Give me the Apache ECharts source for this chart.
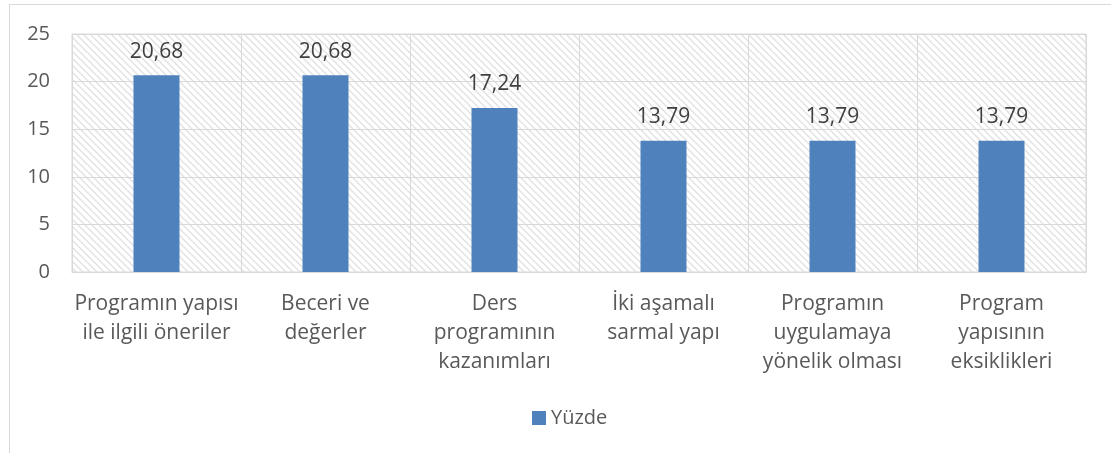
<!DOCTYPE html>
<html>
<head>
<meta charset="utf-8">
<script src="https://cdn.jsdelivr.net/npm/echarts@6/dist/echarts.min.js"></script>
<style>
  body{margin:0;background:#fff;overflow:hidden;}
  .frame{position:absolute;left:9px;top:4px;width:1300px;height:600px;border-left:1px solid #d9d9d9;border-top:1px solid #d9d9d9;}
  #chart{position:absolute;left:0;top:0;width:1111px;height:453px;}
</style>
</head>
<body>
<div class="frame"></div>
<div id="chart"></div>
<script>
var categories = [
  'Programın yapısı\nile ilgili öneriler',
  'Beceri ve\ndeğerler',
  'Ders\nprogramının\nkazanımları',
  'İki aşamalı\nsarmal yapı',
  'Programın\nuygulamaya\nyönelik olması',
  'Program\nyapısının\neksiklikleri'
];
var yuzde = [20.68, 20.68, 17.24, 13.79, 13.79, 13.79];
var seriesName = 'Yüzde';

// diagonal hatch for the plot background
function hatch() {
  var c = document.createElement('canvas');
  c.width = 7; c.height = 7;
  var g = c.getContext('2d');
  g.fillStyle = '#fff';
  g.fillRect(0, 0, 7, 7);
  g.strokeStyle = '#e0e0e0';
  g.lineWidth = 1.3;
  g.beginPath();
  g.moveTo(-1, -1); g.lineTo(8, 8);
  g.moveTo(-8, -1); g.lineTo(1, 8);
  g.moveTo(6, -1); g.lineTo(15, 8);
  g.stroke();
  return c;
}

var font = '"Open Sans", sans-serif';
var chart = echarts.init(document.getElementById('chart'));
chart.setOption({
  animation: false,
  textStyle: {fontFamily: font},
  grid: {
    left: 72, right: 25, top: 34, bottom: 181,
    show: true,
    backgroundColor: {image: hatch(), repeat: 'repeat'},
    borderColor: '#d9d9d9',
    borderWidth: 1
  },
  legend: {
    data: [seriesName],
    left: 527, top: 403,
    icon: 'rect', itemWidth: 14, itemHeight: 14, itemGap: 5,
    textStyle: {fontSize: 20, color: '#595959', fontFamily: font}
  },
  xAxis: {
    type: 'category',
    data: categories,
    axisLine: {show: true, lineStyle: {color: '#d9d9d9'}},
    axisTick: {show: false},
    splitLine: {show: true, lineStyle: {color: '#d9d9d9'}},
    axisLabel: {
      interval: 0, margin: 18, fontSize: 21, lineHeight: 29,
      color: '#595959', fontFamily: font, align: 'center'
    }
  },
  yAxis: {
    type: 'value',
    min: 0, max: 25, interval: 5,
    axisLine: {show: false},
    axisTick: {show: false},
    splitLine: {lineStyle: {color: '#d9d9d9'}},
    axisLabel: {margin: 22, fontSize: 20, color: '#595959', fontFamily: font}
  },
  series: [{
    name: seriesName,
    type: 'bar',
    data: yuzde,
    barWidth: 46,
    itemStyle: {color: '#4f81bd'},
    label: {
      show: true, position: 'top', distance: 13,
      fontSize: 21, color: '#404040', fontFamily: font,
      formatter: function (p) { return p.value.toFixed(2).replace('.', ','); }
    }
  }]
});
</script>
</body>
</html>
